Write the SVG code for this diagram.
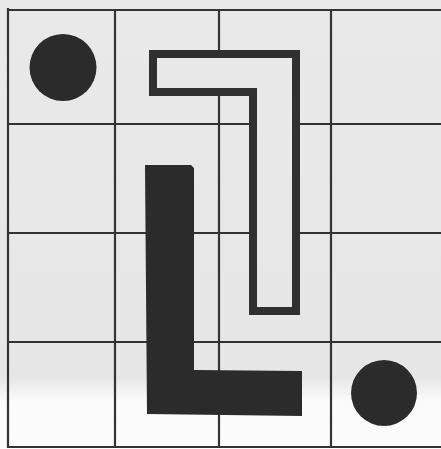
<svg xmlns="http://www.w3.org/2000/svg" width="441" height="449" viewBox="0 0 441 449">
  <defs>
    <linearGradient id="paper" gradientUnits="userSpaceOnUse" x1="0" y1="0" x2="0" y2="449">
      <stop offset="0" stop-color="#e9e9e9"/>
      <stop offset="0.84" stop-color="#e6e6e6"/>
      <stop offset="0.89" stop-color="#fafafa"/>
      <stop offset="1" stop-color="#fcfcfc"/>
    </linearGradient>
  </defs>
  <style>
    .grid { stroke: #333; stroke-width: 2.2; fill: none; }
    .solid { fill: #2b2b2b; }
    .outline { fill: url(#paper); stroke: #303030; stroke-width: 8; stroke-linejoin: miter; }
  </style>
  <rect id="background" x="0" y="0" width="441" height="449" fill="url(#paper)"/>
  <g id="grid" class="grid">
    <line x1="8" y1="10" x2="441" y2="10"/>
    <line x1="8" y1="124" x2="441" y2="124"/>
    <line x1="8" y1="233" x2="441" y2="233"/>
    <line x1="8" y1="342" x2="441" y2="342"/>
    <line x1="8" y1="447" x2="441" y2="447"/>
    <line x1="8" y1="8" x2="8" y2="448"/>
    <line x1="115" y1="10" x2="115" y2="448"/>
    <line x1="219" y1="10" x2="219" y2="448"/>
    <line x1="331" y1="10" x2="331" y2="448"/>
  </g>
  <g id="circle-top-left">
    <circle class="solid" cx="63" cy="67.5" r="33.5"/>
  </g>
  <g id="outline-shape">
    <polygon class="outline" points="153,54 296,54 296,311 253,311 253,92 153,92"/>
  </g>
  <g id="filled-L">
    <polygon class="solid" points="145,165 191,165 194,168 194,370 302,371 302,416 147,414"/>
  </g>
  <g id="circle-bottom-right">
    <circle class="solid" cx="384" cy="393" r="33"/>
  </g>
</svg>
